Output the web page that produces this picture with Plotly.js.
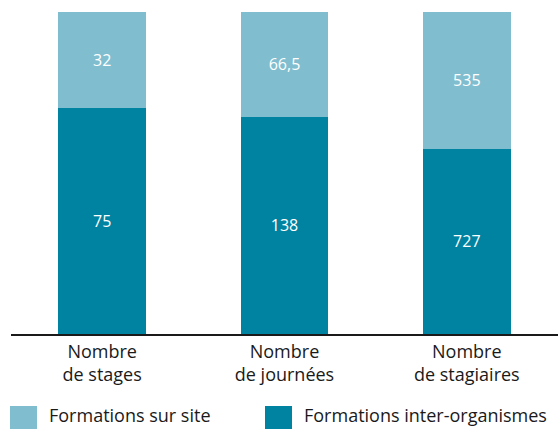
<!DOCTYPE html>
<html>
<head>
<meta charset="utf-8">
<script src="https://cdn.plot.ly/plotly-3.0.1.min.js"></script>
<style>
  html, body { margin: 0; padding: 0; background: #fff; }
  #chart { width: 558px; height: 429px; }
</style>
</head>
<body>
<div id="chart"></div>
<script>
  const categories = ['Nombre<br>de stages', 'Nombre<br>de journées', 'Nombre<br>de stagiaires'];
  const interValues = [75, 138, 727];
  const siteValues = [32, 66.5, 535];
  const seriesNames = ['Formations sur site', 'Formations inter-organismes'];

  const LIGHT = '#7fbdcf';
  const DARK = '#0082a1';
  const INK = '#1a1a1a';

  const W = 558, H = 429;
  const margin = { l: 11, r: 0, t: 12, b: 95 };
  const plotW = W - margin.l - margin.r;
  const plotH = H - margin.t - margin.b;
  // pixel -> paper coordinates, for the hand-made legend
  const px = x => (x - margin.l) / plotW;
  const py = y => (H - margin.b - y) / plotH;

  const fmt = v => String(v).replace('.', ',');

  const traces = [
    {
      type: 'bar',
      name: seriesNames[1],
      x: categories,
      y: interValues,
      text: interValues.map(fmt),
      textposition: 'inside',
      insidetextanchor: 'middle',
      textfont: { color: '#fff', size: 16 },
      marker: { color: DARK, line: { width: 0 } },
      hoverinfo: 'none'
    },
    {
      type: 'bar',
      name: seriesNames[0],
      x: categories,
      y: siteValues,
      text: siteValues.map(fmt),
      textposition: 'inside',
      insidetextanchor: 'middle',
      textfont: { color: '#fff', size: 16 },
      marker: { color: LIGHT, line: { width: 0 } },
      hoverinfo: 'none'
    }
  ];

  const legendItems = [
    { name: seriesNames[0], color: LIGHT, x: 10 },
    { name: seriesNames[1], color: DARK, x: 265 }
  ];

  const shapes = [];
  const annotations = [];
  legendItems.forEach(item => {
    shapes.push({
      type: 'rect', xref: 'paper', yref: 'paper',
      x0: px(item.x), x1: px(item.x + 27),
      y0: py(406), y1: py(433),
      fillcolor: item.color, line: { width: 0 }
    });
    annotations.push({
      xref: 'paper', yref: 'paper',
      x: px(item.x + 37), y: py(429),
      xanchor: 'left', yanchor: 'bottom',
      text: item.name, showarrow: false,
      font: { size: 18, color: INK }
    });
  });

  const layout = {
    width: W,
    height: H,
    margin,
    barmode: 'stack',
    barnorm: 'percent',
    bargap: 0.52,
    showlegend: false,
    paper_bgcolor: '#fff',
    plot_bgcolor: '#fff',
    font: { family: '"Open Sans", "Noto Sans", sans-serif', color: INK },
    xaxis: {
      range: [-0.5, 2.5],
      showline: true,
      linecolor: INK,
      linewidth: 2,
      ticks: '',
      tickfont: { size: 18, color: INK },
      fixedrange: true
    },
    yaxis: {
      range: [0, 100],
      visible: false,
      fixedrange: true
    },
    shapes,
    annotations
  };

  Plotly.newPlot('chart', traces, layout, { displayModeBar: false, staticPlot: true });
</script>
</body>
</html>
